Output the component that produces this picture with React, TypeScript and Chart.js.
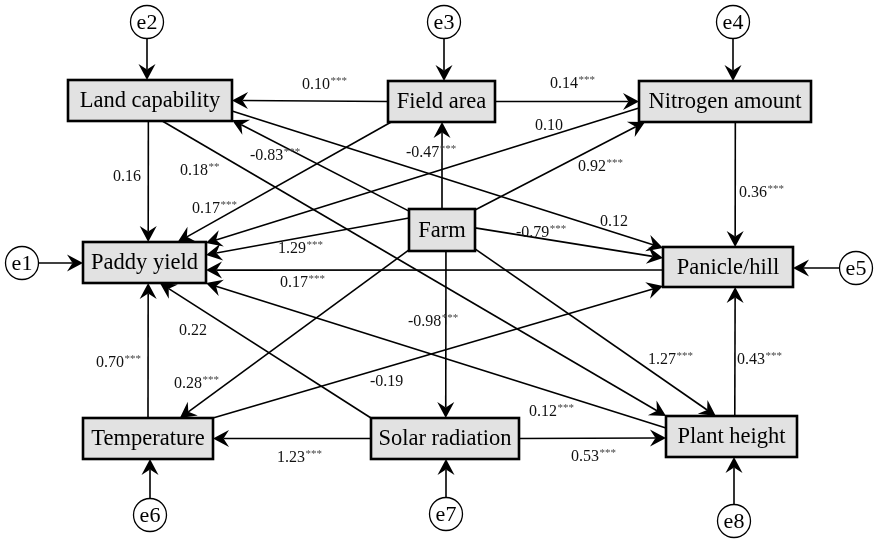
import React, { useEffect, useRef } from "react";
import { Chart, registerables } from "chart.js";

Chart.register(...registerables);

const CANVAS_W = 874;
const CANVAS_H = 539;

// ---------- data ----------
const variables = [
  "Land capability",
  "Field area",
  "Nitrogen amount",
  "Paddy yield",
  "Farm",
  "Panicle/hill",
  "Temperature",
  "Solar radiation",
  "Plant height",
];

const errorTerms = ["e1", "e2", "e3", "e4", "e5", "e6", "e7", "e8"];
const errorTargets = [
  "Paddy yield",
  "Land capability",
  "Field area",
  "Nitrogen amount",
  "Panicle/hill",
  "Temperature",
  "Solar radiation",
  "Plant height",
];

const pathFrom = [
  "Field area", "Field area", "Field area", "Land capability", "Land capability", "Land capability",
  "Farm", "Farm", "Farm", "Nitrogen amount", "Nitrogen amount", "Farm",
  "Farm", "Panicle/hill", "Farm", "Farm", "Farm", "Temperature",
  "Temperature", "Solar radiation", "Plant height", "Plant height", "Solar radiation", "Solar radiation",
];
const pathTo = [
  "Land capability", "Nitrogen amount", "Paddy yield", "Paddy yield", "Panicle/hill", "Plant height",
  "Land capability", "Field area", "Nitrogen amount", "Paddy yield", "Panicle/hill", "Paddy yield",
  "Panicle/hill", "Paddy yield", "Temperature", "Solar radiation", "Plant height", "Paddy yield",
  "Panicle/hill", "Paddy yield", "Paddy yield", "Panicle/hill", "Temperature", "Plant height",
];
const pathCoef = [
  "0.10", "0.14", "0.17", "0.16", "0.12", "0.18",
  "-0.83", "-0.47", "0.92", "0.10", "0.36", "1.29",
  "-0.79", "0.17", "0.28", "-0.98", "1.27", "0.70",
  "-0.19", "0.22", "0.12", "0.43", "1.23", "0.53",
];
const pathSig = [
  "***", "***", "***", "", "", "**",
  "***", "***", "***", "", "***", "***",
  "***", "***", "***", "***", "***", "***",
  "", "", "***", "***", "***", "***",
];

// ---------- layout (diagram coordinates) ----------
const boxCenter: [number, number][] = [
  [150, 100.5], [441.5, 101.5], [725, 101.5],
  [144.5, 262.5], [442, 230], [728, 267],
  [148, 438.5], [445, 438.5], [731.5, 436.5],
];
const boxSize: [number, number][] = [
  [164, 41], [107, 41], [172, 41],
  [123, 41], [66, 42], [130, 40],
  [130, 41], [148, 41], [131, 41],
];
const errorCenter: [number, number][] = [
  [22, 263], [147, 22], [444, 22], [733, 22],
  [856, 268], [150, 515], [446, 514], [734, 521],
];
const errorRadius = 16.5;

// anchor on source / target box border, as fractions of half width / half height
const fromAnchor: [number, number][] = [
  [-1, 0], [1, 0], [-0.94, 1], [-0.02, 1], [1, 0.51], [0.15, 1],
  [-1, -0.9], [0, -1], [1, -0.95], [-1, 0.32], [0.12, 1], [-1, -0.57],
  [1, -0.1], [-1, 0.15], [-1, 0.95], [0.12, 1], [1, 0.9], [0, -1],
  [1, -1], [-1, -1], [-1, -0.41], [0.05, -1], [-1, 0], [1, 0],
];
const toAnchor: [number, number][] = [
  [1, 0], [-1, 0], [0.54, -1], [0.06, -1], [-1, -0.95], [-1, -1],
  [1, 0.95], [0.01, 1], [-0.93, 1], [1, -0.95], [0.11, -1], [1, -0.37],
  [-1, -0.45], [1, 0.37], [0.49, -1], [0.01, -1], [-0.24, -1], [0.06, 1],
  [-1, 0.95], [0.25, 1], [1, 1], [0.11, 1], [1, 0], [-1, 0.07],
];
// label left edge / vertical centre
const labelPos: [number, number][] = [
  [302, 83], [550, 82], [192, 207], [113, 175], [600, 220], [180, 169],
  [250, 154], [406, 151], [578, 165], [535, 124], [739, 191], [278, 247],
  [516, 231], [280, 281], [174, 382], [408, 320], [648, 358], [96, 361],
  [370, 380], [179, 329], [529, 410], [737, 358], [277, 456], [571, 455],
];

const SERIF = '"Liberation Serif", "Times New Roman", serif';
const INK = "#000";

function drawArrow(ctx: CanvasRenderingContext2D, x1: number, y1: number, x2: number, y2: number) {
  const dx = x2 - x1;
  const dy = y2 - y1;
  const len = Math.hypot(dx, dy);
  const ux = dx / len;
  const uy = dy / len;
  const nx = -uy;
  const ny = ux;
  const L = 16;
  const Wd = 8.5;
  const notch = 10.5;
  ctx.beginPath();
  ctx.moveTo(x1, y1);
  ctx.lineTo(x2 - ux * notch, y2 - uy * notch);
  ctx.stroke();
  ctx.beginPath();
  ctx.moveTo(x2, y2);
  ctx.lineTo(x2 - ux * L + nx * Wd, y2 - uy * L + ny * Wd);
  ctx.lineTo(x2 - ux * notch, y2 - uy * notch);
  ctx.lineTo(x2 - ux * L - nx * Wd, y2 - uy * L - ny * Wd);
  ctx.closePath();
  ctx.fill();
}

const semPlugin = {
  id: "semDiagram",
  afterDatasetsDraw(chart: any) {
    const ctx: CanvasRenderingContext2D = chart.ctx;
    const sx = chart.scales.x;
    const sy = chart.scales.y;
    const px = (v: number) => sx.getPixelForValue(v);
    const py = (v: number) => sy.getPixelForValue(v);
    const idx = (name: string) => variables.indexOf(name);
    const anchor = (i: number, a: [number, number]) => {
      const [cx, cy] = boxCenter[i];
      const [w, h] = boxSize[i];
      return [px(cx + (a[0] * w) / 2), py(cy + (a[1] * h) / 2)];
    };

    ctx.save();
    ctx.strokeStyle = INK;
    ctx.fillStyle = INK;
    ctx.lineWidth = 1.6;
    ctx.lineJoin = "miter";

    // structural paths
    for (let k = 0; k < pathFrom.length; k++) {
      const [x1, y1] = anchor(idx(pathFrom[k]), fromAnchor[k]);
      const [x2, y2] = anchor(idx(pathTo[k]), toAnchor[k]);
      drawArrow(ctx, x1, y1, x2, y2);
    }

    // error terms
    for (let k = 0; k < errorTerms.length; k++) {
      const t = idx(errorTargets[k]);
      const [ecx, ecy] = errorCenter[k];
      const [bcx, bcy] = boxCenter[t];
      const [w, h] = boxSize[t];
      let x1: number, y1: number, x2: number, y2: number;
      if (Math.abs(bcy - ecy) > Math.abs(bcx - ecx)) {
        const dir = Math.sign(bcy - ecy);
        x1 = px(ecx); y1 = py(ecy + dir * errorRadius);
        x2 = px(ecx); y2 = py(bcy - (dir * h) / 2);
      } else {
        const dir = Math.sign(bcx - ecx);
        x1 = px(ecx + dir * errorRadius); y1 = py(ecy);
        x2 = px(bcx - (dir * w) / 2); y2 = py(ecy);
      }
      ctx.lineWidth = 1.6;
      ctx.fillStyle = INK;
      drawArrow(ctx, x1, y1, x2, y2);
      // circle
      ctx.beginPath();
      ctx.lineWidth = 1.3;
      ctx.fillStyle = "#fff";
      const r = Math.abs(px(ecx + errorRadius) - px(ecx));
      ctx.arc(px(ecx), py(ecy), r, 0, Math.PI * 2);
      ctx.fill();
      ctx.stroke();
      ctx.fillStyle = INK;
      ctx.font = `22px ${SERIF}`;
      ctx.textAlign = "center";
      ctx.textBaseline = "middle";
      ctx.fillText(errorTerms[k], px(ecx), py(ecy) + 1);
    }

    // boxes
    for (let i = 0; i < variables.length; i++) {
      const [cx, cy] = boxCenter[i];
      const [w, h] = boxSize[i];
      const l = px(cx - w / 2);
      const r = px(cx + w / 2);
      const t = py(cy - h / 2);
      const b = py(cy + h / 2);
      ctx.fillStyle = "#e2e2e2";
      ctx.fillRect(l, t, r - l, b - t);
      ctx.lineWidth = 2.6;
      ctx.strokeStyle = INK;
      ctx.strokeRect(l, t, r - l, b - t);
      ctx.fillStyle = INK;
      ctx.font = `22.5px ${SERIF}`;
      ctx.textAlign = "center";
      ctx.textBaseline = "middle";
      ctx.fillText(variables[i], px(cx), py(cy) + 1);
    }

    // coefficient labels
    for (let k = 0; k < pathCoef.length; k++) {
      const [lx, ly] = labelPos[k];
      const x = px(lx);
      const base = py(ly) + 5.5;
      ctx.font = `16px ${SERIF}`;
      ctx.textAlign = "left";
      ctx.textBaseline = "alphabetic";
      ctx.fillStyle = "#111";
      ctx.fillText(pathCoef[k], x, base);
      if (pathSig[k]) {
        const w = ctx.measureText(pathCoef[k]).width;
        ctx.font = `11px ${SERIF}`;
        ctx.fillStyle = "#444";
        ctx.fillText(pathSig[k], x + w + 0.5, base - 4.5);
      }
    }
    ctx.restore();
  },
};

export default function App() {
  const canvasRef = useRef<HTMLCanvasElement | null>(null);

  useEffect(() => {
    document.body.style.margin = "0";
    const canvas = canvasRef.current;
    if (!canvas) return;
    const chart = new Chart(canvas, {
      type: "scatter",
      data: {
        datasets: [
          {
            label: "variables",
            data: boxCenter.map(([x, y]) => ({ x, y })),
            pointRadius: 0,
            pointHoverRadius: 0,
          },
        ],
      },
      options: {
        animation: false,
        responsive: false,
        maintainAspectRatio: false,
        events: [],
        layout: { padding: 0 },
        plugins: {
          legend: { display: false },
          tooltip: { enabled: false },
        },
        scales: {
          x: { type: "linear", min: 0, max: CANVAS_W, display: false },
          y: { type: "linear", min: 0, max: CANVAS_H, reverse: true, display: false },
        },
      },
      plugins: [semPlugin],
    });
    return () => chart.destroy();
  }, []);

  return (
    <div style={{ position: "absolute", left: 0, top: 0, width: CANVAS_W, height: CANVAS_H, background: "#fff" }}>
      <canvas ref={canvasRef} width={CANVAS_W} height={CANVAS_H} style={{ display: "block", width: CANVAS_W, height: CANVAS_H }} />
    </div>
  );
}
